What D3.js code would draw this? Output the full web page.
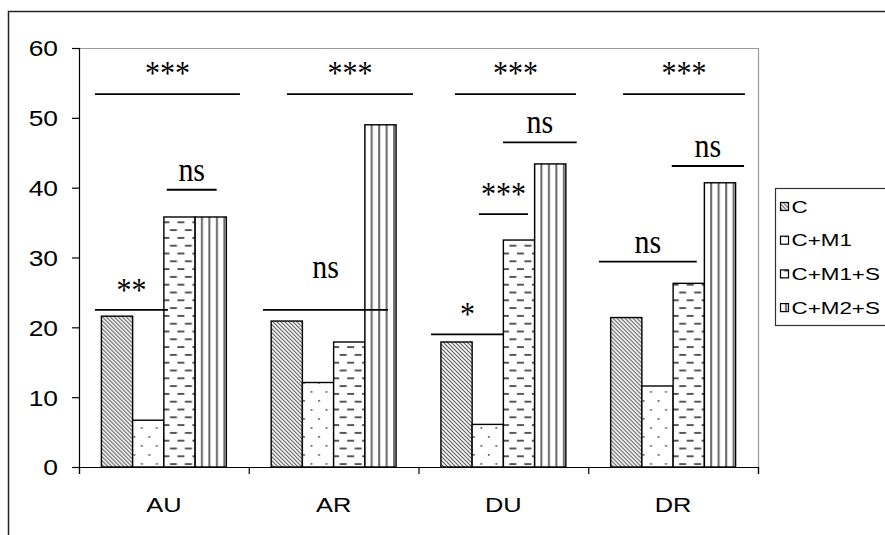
<!DOCTYPE html>
<html>
<head>
<meta charset="utf-8">
<script src="https://cdn.jsdelivr.net/npm/d3@7"></script>
<style>
  body { margin: 0; background: #fff; }
  svg { display: block; }
</style>
</head>
<body>
<script>
const categories = ["AU", "AR", "DU", "DR"];
const seriesNames = ["C", "C+M1", "C+M1+S", "C+M2+S"];
const valuesC = [21.6, 20.9, 17.9, 21.4];
const valuesM1 = [6.7, 12.1, 6.1, 11.6];
const valuesM1S = [35.8, 17.9, 32.5, 26.3];
const valuesM2S = [35.8, 49.0, 43.4, 40.7];
const yTicks = [0, 10, 20, 30, 40, 50, 60];

// significance brackets: label, line level and label level (y units), from/to (category units, 0..4)
const sigLabels = ["***", "ns", "**", "***", "ns", "***", "ns", "***", "*", "***", "ns", "ns"];
const sigLevels = [53.4, 39.7, 22.5, 53.4, 22.5, 53.4, 46.5, 36.2, 19.0, 53.4, 43.1, 29.4];
const sigLabelLevels = [54.8, 41.0, 23.8, 54.8, 27.1, 54.8, 47.8, 37.5, 20.3, 54.8, 44.4, 30.7];
const sigFrom = [0.094, 0.517, 0.094, 1.225, 1.084, 2.215, 2.498, 2.356, 2.074, 3.205, 3.492, 3.063];
const sigTo = [0.948, 0.811, 0.524, 1.968, 1.820, 2.928, 2.932, 2.645, 2.504, 3.923, 3.918, 3.639];

const width = 885;
const height = 535;
const margin = { top: 48, right: 127, bottom: 68, left: 79 };

const seriesValues = [valuesC, valuesM1, valuesM1S, valuesM2S];
const fills = ["url(#pC)", "url(#pM1)", "url(#pM1S)", "url(#pM2S)"];

const svg = d3.select("body").append("svg")
  .attr("width", width)
  .attr("height", height);

// patterns
const defs = svg.append("defs");

const pC = defs.append("pattern").attr("id", "pC")
  .attr("patternUnits", "userSpaceOnUse").attr("width", 4).attr("height", 4);
pC.append("rect").attr("width", 4).attr("height", 4).attr("fill", "#fff");
pC.append("path").attr("d", "M-1,-1 L5,5 M-1,3 L1,5 M3,-1 L5,1")
  .attr("stroke", "#555").attr("stroke-width", 1.1);

const pM1 = defs.append("pattern").attr("id", "pM1")
  .attr("patternUnits", "userSpaceOnUse").attr("width", 15).attr("height", 18);
pM1.append("rect").attr("width", 15).attr("height", 18).attr("fill", "#fff");
pM1.append("rect").attr("x", 2).attr("y", 4).attr("width", 1.8).attr("height", 1.8).attr("fill", "#666");
pM1.append("rect").attr("x", 9.5).attr("y", 13).attr("width", 1.8).attr("height", 1.8).attr("fill", "#666");

const pM1S = defs.append("pattern").attr("id", "pM1S")
  .attr("patternUnits", "userSpaceOnUse").attr("width", 15).attr("height", 15.6);
pM1S.append("rect").attr("width", 15).attr("height", 15.6).attr("fill", "#fff");
pM1S.append("path").attr("d", "M1,3.9 H8 M8.5,11.7 H15 M-0.5,11.7 H0.5")
  .attr("stroke", "#555").attr("stroke-width", 1.8);

const pM2S = defs.append("pattern").attr("id", "pM2S")
  .attr("patternUnits", "userSpaceOnUse").attr("width", 7.5).attr("height", 10);
pM2S.append("rect").attr("width", 7.5).attr("height", 10).attr("fill", "#fff");
pM2S.append("rect").attr("x", 2).attr("y", 0).attr("width", 2).attr("height", 10).attr("fill", "#666");

// outer chart border
svg.append("rect")
  .attr("x", 8.5).attr("y", 11.5)
  .attr("width", 1000).attr("height", 600)
  .attr("fill", "none").attr("stroke", "#222").attr("stroke-width", 1.5);

const x0 = d3.scaleBand()
  .domain(categories)
  .range([margin.left, width - margin.right])
  .paddingInner(0.264)
  .paddingOuter(0.132);

const x1 = d3.scaleBand()
  .domain(seriesNames)
  .range([0, x0.bandwidth()]);

const xu = d3.scaleLinear()
  .domain([0, categories.length])
  .range([margin.left, width - margin.right]);

const y = d3.scaleLinear()
  .domain([0, 60])
  .range([height - margin.bottom, margin.top]);

// plot area top/right edge
svg.append("path")
  .attr("d", `M${margin.left},${margin.top + 0.5} H${width - margin.right + 0.5} V${height - margin.bottom}`)
  .attr("fill", "none").attr("stroke", "#999").attr("stroke-width", 1.2);

// bars
const groups = svg.selectAll("g.cat")
  .data(categories)
  .enter().append("g")
  .attr("class", "cat")
  .attr("transform", d => `translate(${x0(d)},0)`);

groups.selectAll("rect")
  .data((d, i) => seriesNames.map((s, j) => ({ s: s, j: j, v: seriesValues[j][i] })))
  .enter().append("rect")
  .attr("x", d => x1(d.s))
  .attr("y", d => y(d.v))
  .attr("width", x1.bandwidth())
  .attr("height", d => y(0) - y(d.v))
  .attr("fill", d => fills[d.j])
  .attr("stroke", "#000")
  .attr("stroke-width", 1.4);

// y axis
const yAxis = svg.append("g")
  .attr("transform", `translate(${margin.left},0)`)
  .call(d3.axisLeft(y).tickValues(yTicks).tickSize(7).tickPadding(14).tickFormat(d3.format("d")));
yAxis.select(".domain").attr("stroke", "#000").attr("stroke-width", 1.2);
yAxis.selectAll(".tick line").attr("stroke", "#000").attr("stroke-width", 1.2);
yAxis.selectAll(".tick text")
  .attr("font-family", "Liberation Sans, Arial, sans-serif")
  .attr("font-size", 22)
  .attr("fill", "#000")
  .attr("dy", "0.36em")
  .attr("transform", function () {
    const xx = +d3.select(this).attr("x");
    return `translate(${xx},0) scale(1.2,1) translate(${-xx},0)`;
  });

// x axis: tick marks between categories
const xAxis = svg.append("g")
  .attr("transform", `translate(0,${height - margin.bottom})`)
  .call(d3.axisBottom(xu).ticks(categories.length).tickSize(7).tickFormat(""));
xAxis.select(".domain").attr("stroke", "#000").attr("stroke-width", 1.2);
xAxis.selectAll(".tick line").attr("stroke", "#000").attr("stroke-width", 1.2);

// category labels
svg.selectAll("text.cat")
  .data(categories)
  .enter().append("text")
  .attr("class", "cat")
  .attr("text-anchor", "middle")
  .attr("font-family", "Liberation Sans, Arial, sans-serif")
  .attr("font-size", 20)
  .attr("transform", d => `translate(${x0(d) + x0.bandwidth() / 2},${height - margin.bottom + 45}) scale(1.27,1)`)
  .text(d => d);

// significance brackets
const sig = svg.selectAll("g.sig")
  .data(sigLabels.map((l, i) => ({ l: l, v: sigLevels[i], t: sigLabelLevels[i], a: sigFrom[i], b: sigTo[i] })))
  .enter().append("g")
  .attr("class", "sig");

sig.append("line")
  .attr("x1", d => xu(d.a))
  .attr("x2", d => xu(d.b))
  .attr("y1", d => y(d.v))
  .attr("y2", d => y(d.v))
  .attr("stroke", "#000")
  .attr("stroke-width", 1.8);

sig.append("text")
  .attr("transform", d => `translate(${(xu(d.a) + xu(d.b)) / 2},${y(d.t)}) scale(1,1.1)`)
  .attr("text-anchor", "middle")
  .attr("font-family", "Liberation Serif, Times New Roman, serif")
  .attr("font-size", 30)
  .attr("fill", "#000")
  .text(d => d.l);

// legend
const legend = svg.append("g").attr("transform", "translate(775.5,188.5)");
legend.append("rect")
  .attr("width", 200).attr("height", 137)
  .attr("fill", "#fff").attr("stroke", "#333").attr("stroke-width", 1.2);

const items = legend.selectAll("g.item")
  .data(seriesNames)
  .enter().append("g")
  .attr("class", "item")
  .attr("transform", (d, i) => `translate(0,${18.5 + i * 33.7})`);

items.append("rect")
  .attr("x", 5).attr("y", -4.5)
  .attr("width", 8).attr("height", 8)
  .attr("fill", (d, i) => fills[i])
  .attr("stroke", "#000").attr("stroke-width", 1.2);

items.append("text")
  .attr("transform", "translate(16,0) scale(1.4,1)")
  .attr("dy", "0.36em")
  .attr("font-family", "Liberation Sans, Arial, sans-serif")
  .attr("font-size", 16)
  .text(d => d);
</script>
</body>
</html>
